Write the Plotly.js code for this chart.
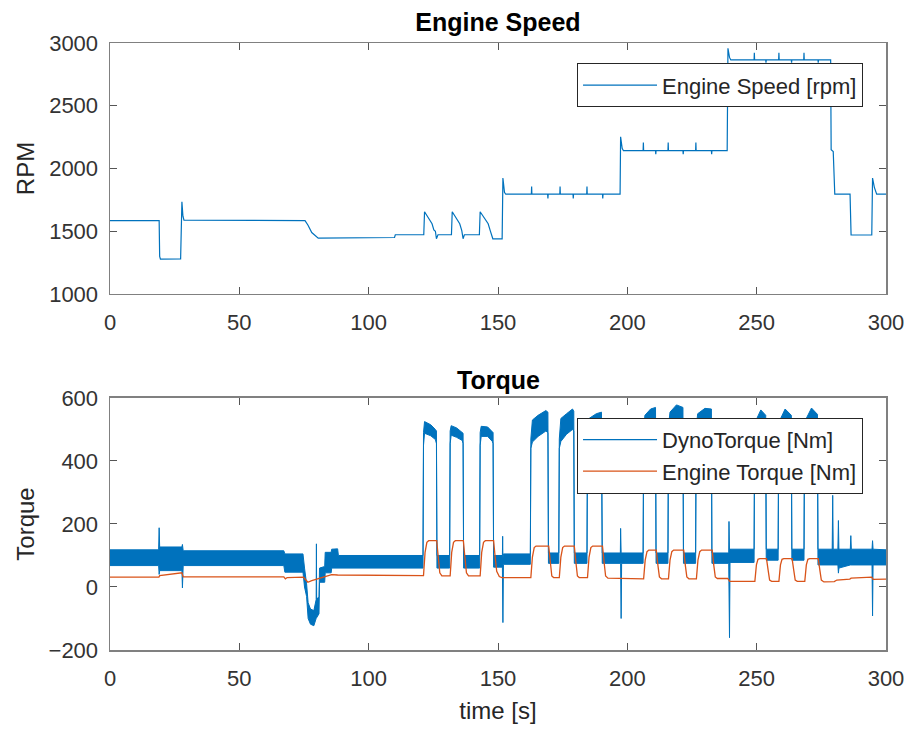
<!DOCTYPE html>
<html>
<head>
<meta charset="utf-8">
<script src="https://cdn.plot.ly/plotly-3.0.1.min.js"></script>
<style>html,body{margin:0;padding:0;background:#fff;}#chart{width:907px;height:729px;}</style>
</head>
<body>
<div id="chart"></div>
<script>
// ---- Engine speed [rpm] ----
const rpmTime = [0, 19.0, 19.2, 19.5, 27.3, 27.5, 27.8, 28.2, 28.6, 75.4, 76.5, 78.0, 79.5, 80.5, 110.0, 110.3,
  121.3, 121.6, 124.5, 125.2, 125.8, 126.2, 126.8, 132.0, 132.3, 135.2, 136.0, 136.5, 137.0,
  142.8, 143.1, 146.2, 147.0, 148.0, 151.6, 151.9, 152.5, 153.0,
  162.9, 163.0, 163.1, 169.2, 169.3, 169.4, 173.9, 174.0, 174.1, 179.0, 179.1, 179.2, 184.3, 184.4, 184.5, 190.4, 190.5, 190.6,
  197.2, 197.4, 198.0, 198.5,
  206.1, 206.2, 206.3, 210.9, 211.0, 211.1, 215.7, 215.8, 215.9, 221.5, 221.6, 221.7, 226.4, 226.5, 226.6, 232.5, 232.6, 232.7,
  238.6, 238.9, 239.5, 240.0,
  249.0, 249.1, 249.2, 253.5, 253.6, 253.7, 258.5, 258.6, 258.7, 263.4, 263.5, 263.6, 268.2, 268.3, 268.4, 273.7, 273.8, 273.9,
  278.6, 278.8, 279.6, 280.2, 286.1, 286.5, 294.5, 294.8, 295.5, 296.4, 300];
const rpmValue = [1585, 1585, 1300, 1278, 1280, 1600, 1735, 1620, 1588, 1585, 1550, 1490, 1462, 1445, 1450, 1472,
  1472, 1655, 1560, 1510, 1500, 1440, 1472, 1472, 1655, 1560, 1505, 1440, 1472,
  1472, 1655, 1560, 1505, 1440, 1440, 1924, 1810, 1795,
  1795, 1856, 1795, 1795, 1762, 1795, 1795, 1856, 1795, 1795, 1762, 1795, 1795, 1856, 1795, 1795, 1762, 1795,
  1795, 2253, 2160, 2142,
  2142, 2206, 2142, 2142, 2113, 2142, 2142, 2206, 2142, 2142, 2113, 2142, 2142, 2206, 2142, 2142, 2113, 2142,
  2142, 2958, 2885, 2865,
  2865, 2923, 2865, 2865, 2844, 2865, 2865, 2923, 2865, 2865, 2844, 2865, 2865, 2923, 2865, 2865, 2844, 2865,
  2865, 2150, 2135, 1795, 1795, 1470, 1470, 1924, 1850, 1795, 1795];

// ---- Dyno torque [Nm]: time, upper and lower edge of the noisy band ----
const dynoTime = [0, 18.8, 19.0, 19.2, 27.8, 28.0, 28.3, 67.2, 67.6, 74.6, 75.2, 76.0, 76.6, 77.5, 78.8, 79.5, 79.7, 79.8, 79.9,
  80.8, 81.0, 83.0, 83.2, 85.5, 85.7, 88.0, 88.3, 121.0,
  121.2, 121.6, 124.0, 125.8, 126.2, 126.4, 131.3,
  131.5, 131.9, 134.0, 136.2, 136.5, 136.7, 142.9,
  143.1, 143.5, 146.0, 147.8, 148.1, 148.3, 151.7, 151.8, 151.9, 152.1, 162.5,
  162.7, 163.3, 165.5, 168.5, 169.3, 169.5, 173.5,
  173.7, 174.3, 176.5, 178.8, 179.3, 179.5, 184.4,
  184.6, 185.2, 188.0, 190.0, 190.3, 197.3, 197.4, 197.6, 197.8, 206.1,
  206.3, 206.8, 209.0, 210.9, 211.1, 215.7,
  215.9, 216.5, 219.0, 221.5, 221.7, 226.4,
  226.6, 227.2, 230.0, 232.5, 232.7, 239.2, 239.3, 239.5, 239.7, 249.0,
  249.2, 249.8, 251.6, 253.5, 253.7, 258.3,
  258.5, 259.0, 261.0, 263.4, 263.6, 268.3,
  268.5, 269.0, 271.2, 273.5, 273.7, 279.2, 279.4, 279.6, 281.4, 281.6, 281.8, 286.2, 286.4, 286.6, 294.6, 294.8, 295.0, 300];
const dynoHigh = [118, 118, 188, 127, 127, 135, 115, 115, 105, 105, 60, 10, -50, -70, -75, -45, -40, 137, -40,
  -30, 60, 65, 110, 110, 120, 121, 100, 100,
  490, 525, 515, 500, 495, 100, 100,
  495, 512, 505, 492, 488, 100, 100,
  490, 510, 508, 495, 490, 100, 100, 161, 90, 105, 105,
  470, 530, 545, 560, 555, 108, 108,
  470, 535, 550, 565, 558, 108, 108,
  480, 535, 550, 555, 108, 108, 186, 108, 108, 108,
  500, 545, 565, 570, 108, 108,
  510, 555, 578, 570, 108, 108,
  505, 550, 567, 565, 108, 108, 208, 108, 120, 120,
  500, 530, 562, 545, 120, 120,
  500, 530, 565, 545, 120, 120,
  505, 532, 568, 548, 120, 120, 291, 120, 120, 211, 120, 120, 163, 120, 120, 147, 120, 118];
const dynoLow = [68, 68, 40, 52, 52, -3, 68, 68, 47, 47, 0, -30, -100, -118, -123, -105, -100, -100, -95,
  -85, 15, 15, 45, 45, 60, 60, 60, 60,
  450, 488, 480, 468, 455, 60, 60,
  455, 482, 475, 465, 455, 60, 60,
  450, 478, 478, 462, 455, 63, 63, 60, -113, 72, 72,
  440, 460, 478, 495, 490, 75, 75,
  440, 462, 485, 500, 495, 75, 75,
  445, 475, 500, 505, 75, 75, 75, -100, 75, 75,
  460, 495, 515, 520, 75, 75,
  470, 505, 525, 520, 75, 75,
  465, 505, 520, 518, 75, 75, 75, -161, 78, 78,
  470, 500, 515, 505, 85, 85,
  470, 500, 515, 505, 85, 85,
  470, 500, 518, 505, 70, 70, 70, 70, 70, 44, 60, 70, 70, 70, 70, -92, 70, 70];

// ---- Engine torque [Nm] ----
const engTime = [0, 18.9, 19.2, 27.8, 28.3, 67.2, 67.8, 68.5, 74.8, 76.5, 78.0, 81.0, 83.0, 85.7, 88.0,
  121.2, 121.8, 122.5, 123.2, 126.3, 126.9, 127.5, 128.3,
  131.5, 132.1, 132.8, 133.5, 136.6, 137.2, 137.8, 138.6,
  143.1, 143.7, 144.4, 145.1, 148.3, 148.9, 149.5, 150.5, 151.5,
  162.7, 163.3, 164.0, 164.7, 169.6, 170.2, 170.8, 171.5,
  173.7, 174.3, 175.0, 175.7, 179.5, 180.1, 180.7, 181.4,
  184.6, 185.2, 185.9, 186.6, 190.4, 191.0, 191.6, 192.5,
  206.3, 206.9, 207.6, 208.3, 211.2, 211.8, 212.4, 213.2,
  215.9, 216.5, 217.2, 217.9, 221.8, 222.4, 223.0, 223.8,
  226.7, 227.3, 228.0, 228.7, 232.8, 233.4, 234.0, 234.8,
  238.8, 239.6,
  249.3, 249.9, 250.5, 251.2, 253.8, 254.4, 255.0, 255.8,
  258.6, 259.2, 259.8, 260.5, 263.7, 264.3, 264.9, 265.7,
  268.6, 269.2, 269.8, 270.5, 273.8, 274.4, 275.0, 276.0,
  280.0, 281.0, 286.0, 286.5, 292.0, 294.5, 295.0, 300];
const engValue = [31, 31, 36, 45, 32, 32, 26, 30, 31, 15, 20, 28, 32, 39, 38,
  36, 110, 142, 147, 147, 95, 45, 35,
  35, 110, 142, 147, 147, 95, 45, 35,
  35, 110, 142, 147, 147, 95, 50, 33, 30,
  30, 95, 125, 130, 130, 80, 35, 30,
  30, 95, 125, 130, 130, 80, 35, 30,
  30, 95, 125, 130, 130, 80, 35, 28,
  26, 85, 112, 117, 117, 70, 32, 26,
  26, 85, 112, 117, 117, 70, 32, 26,
  26, 85, 112, 117, 117, 70, 32, 27,
  27, 18,
  18, 70, 88, 90, 90, 55, 22, 18,
  18, 70, 88, 90, 90, 55, 22, 18,
  18, 70, 88, 90, 90, 55, 22, 16,
  17, 22, 25, 28, 31, 31, 24, 25];

const xTicks = [0, 50, 100, 150, 200, 250, 300];
const rpmTicks = [1000, 1500, 2000, 2500, 3000];
const torqueTicks = [-200, 0, 200, 400, 600];

const BLUE = '#0072BD', ORANGE = '#D95319';
const FONT = 'Liberation Sans, Arial, Helvetica, sans-serif';

const bandX = dynoTime.concat(dynoTime.slice().reverse());
const bandY = dynoHigh.concat(dynoLow.slice().reverse());

const traces = [
  {x: rpmTime, y: rpmValue, type: 'scatter', mode: 'lines', name: 'Engine Speed [rpm]',
   line: {color: BLUE, width: 1.2}, xaxis: 'x', yaxis: 'y', legend: 'legend'},
  {x: bandX, y: bandY, type: 'scatter', mode: 'lines', fill: 'toself', fillcolor: BLUE,
   line: {color: BLUE, width: 1}, xaxis: 'x2', yaxis: 'y2', showlegend: false, hoverinfo: 'skip'},
  {x: [null], y: [null], type: 'scatter', mode: 'lines', name: 'DynoTorque [Nm]',
   line: {color: BLUE, width: 1.2}, xaxis: 'x2', yaxis: 'y2', legend: 'legend2'},
  {x: engTime, y: engValue, type: 'scatter', mode: 'lines', name: 'Engine Torque [Nm]',
   line: {color: ORANGE, width: 1.3}, xaxis: 'x2', yaxis: 'y2', legend: 'legend2'}
];

const axisCommon = {
  showline: true, mirror: 'ticks', linecolor: '#808080', linewidth: 1.5,
  ticks: 'inside', ticklen: 7, tickwidth: 1, tickcolor: '#555',
  showgrid: false, zeroline: false,
  tickfont: {family: FONT, size: 22, color: '#333'}
};

const legendCommon = {
  xanchor: 'right', yanchor: 'top', bgcolor: '#fff', bordercolor: '#262626', borderwidth: 1,
  font: {family: FONT, size: 22, color: '#262626'}, itemwidth: 74, tracegroupgap: 0
};

const layout = {
  width: 907, height: 729,
  margin: {l: 110, r: 21, t: 43, b: 79},
  paper_bgcolor: '#fff', plot_bgcolor: '#fff',
  showlegend: true,
  title: {text: '<b>Engine Speed</b>', x: 0.549, xanchor: 'center', y: 1 - 22 / 729, yanchor: 'middle',
          font: {family: FONT, size: 25, color: '#000'}},
  xaxis: Object.assign({}, axisCommon, {domain: [0, 1], range: [0, 300], tickvals: xTicks, anchor: 'y',
          ticklabelstandoff: 8}),
  yaxis: Object.assign({}, axisCommon, {domain: [0.5865, 1], range: [1000, 3000], tickvals: rpmTicks, anchor: 'x',
          ticklabelstandoff: 6,
          title: {text: 'RPM', standoff: 7, font: {family: FONT, size: 24, color: '#262626'}}}),
  xaxis2: Object.assign({}, axisCommon, {domain: [0, 1], range: [0, 300], tickvals: xTicks, anchor: 'y2',
          ticklabelstandoff: 8,
          title: {text: 'time [s]', standoff: 12, font: {family: FONT, size: 24, color: '#262626'}}}),
  yaxis2: Object.assign({}, axisCommon, {domain: [0, 0.4152], range: [-200, 600], tickvals: torqueTicks, anchor: 'x2',
          ticklabelstandoff: 6,
          title: {text: 'Torque', standoff: 7, font: {family: FONT, size: 24, color: '#262626'}}}),
  legend: Object.assign({}, legendCommon, {x: 0.9704, y: 0.9665}),
  legend2: Object.assign({}, legendCommon, {x: 0.9704, y: 0.3825}),
  annotations: [
    {text: '<b>Torque</b>', xref: 'paper', yref: 'paper', x: 0.5, y: (650 - 380) / 607,
     xanchor: 'center', yanchor: 'middle', showarrow: false,
     font: {family: FONT, size: 25, color: '#000'}}
  ]
};

Plotly.newPlot('chart', traces, layout, {displayModeBar: false, staticPlot: true});
</script>
</body>
</html>
